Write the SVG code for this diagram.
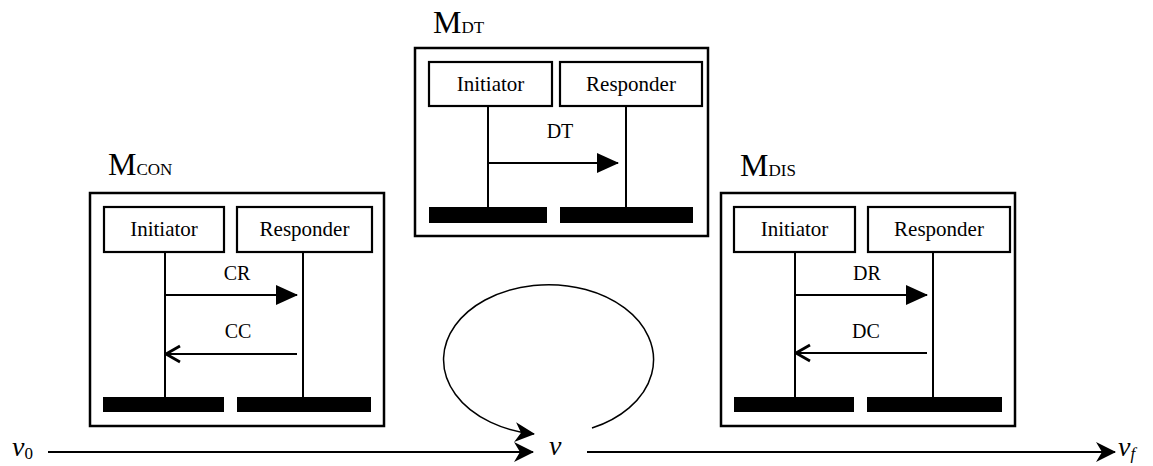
<svg xmlns="http://www.w3.org/2000/svg" width="1153" height="466" viewBox="0 0 1153 466">
  <style>
    .frame { fill: #fff; stroke: #000; stroke-width: 2.5; }
    .role { fill: #fff; stroke: #000; stroke-width: 2.2; }
    .bar { fill: #000; stroke: none; }
    .life { stroke: #000; stroke-width: 2; fill: none; }
    .msg { stroke: #000; stroke-width: 2; fill: none; }
    .axis { stroke: #000; stroke-width: 1.8; fill: none; }
    .loop { stroke: #000; stroke-width: 1.5; fill: none; }
    .role-txt { font-family: "Liberation Serif", "Times New Roman", serif; font-size: 21px; text-anchor: middle; fill: #000; }
    .msg-txt { font-family: "Liberation Serif", "Times New Roman", serif; font-size: 20px; text-anchor: middle; fill: #000; }
    .title { font-family: "Liberation Serif", "Times New Roman", serif; font-size: 32px; fill: #000; }
    .title .sub { font-size: 17px; }
    .state { font-family: "Liberation Serif", "Times New Roman", serif; font-size: 28px; font-style: italic; fill: #000; }
    .state .idx { font-size: 17px; }
  </style>
  <defs>
    <marker id="tri" viewBox="0 0 22 20" refX="21" refY="10" markerWidth="22" markerHeight="20" markerUnits="userSpaceOnUse" orient="auto">
      <path d="M0,0 L22,10 L0,20 z" fill="#000"/>
    </marker>
    <marker id="vee" viewBox="0 0 18 20" refX="16" refY="10" markerWidth="18" markerHeight="20" markerUnits="userSpaceOnUse" orient="auto">
      <path d="M2,2 L16,10 L2,18" fill="none" stroke="#000" stroke-width="2.8"/>
    </marker>
    <marker id="barb" viewBox="0 0 20 20" refX="19" refY="10" markerWidth="20" markerHeight="20" markerUnits="userSpaceOnUse" orient="auto">
      <path d="M0,0 L20,10 L0,20 L6,10 z" fill="#000"/>
    </marker>
  </defs>

  <!-- connection establishment -->
  <g id="node-mcon">
    <text class="title" x="108" y="175">M<tspan class="sub">CON</tspan></text>
    <rect class="frame" x="90" y="193" width="294" height="233"/>
    <rect class="role" x="104" y="207" width="120" height="45"/>
    <text class="role-txt" x="164" y="236">Initiator</text>
    <rect class="role" x="237" y="207" width="135" height="45"/>
    <text class="role-txt" x="304.5" y="236">Responder</text>
    <line class="life" x1="165" y1="252" x2="165" y2="397"/>
    <line class="life" x1="303" y1="252" x2="303" y2="397"/>
    <rect class="bar" x="103" y="397" width="121" height="15"/>
    <rect class="bar" x="237" y="397" width="134" height="15"/>
    <text class="msg-txt" x="237" y="280">CR</text>
    <line class="msg" x1="165" y1="295" x2="297" y2="295" marker-end="url(#tri)"/>
    <text class="msg-txt" x="238" y="338">CC</text>
    <line class="msg" x1="297" y1="354" x2="166" y2="354" marker-end="url(#vee)"/>
  </g>

  <!-- data transfer -->
  <g id="node-mdt">
    <text class="title" x="433" y="33">M<tspan class="sub">DT</tspan></text>
    <rect class="frame" x="415" y="48" width="293" height="188"/>
    <rect class="role" x="429" y="62" width="123" height="44"/>
    <text class="role-txt" x="490.5" y="91">Initiator</text>
    <rect class="role" x="560" y="62" width="142" height="44"/>
    <text class="role-txt" x="631" y="91">Responder</text>
    <line class="life" x1="488" y1="106" x2="488" y2="207"/>
    <line class="life" x1="626" y1="106" x2="626" y2="207"/>
    <rect class="bar" x="429" y="207" width="118" height="16"/>
    <rect class="bar" x="560" y="207" width="133" height="16"/>
    <text class="msg-txt" x="560" y="138">DT</text>
    <line class="msg" x1="488" y1="163" x2="618" y2="163" marker-end="url(#tri)"/>
  </g>

  <!-- disconnection -->
  <g id="node-mdis">
    <text class="title" x="740" y="176">M<tspan class="sub">DIS</tspan></text>
    <rect class="frame" x="721" y="193" width="294" height="233"/>
    <rect class="role" x="734" y="207" width="121" height="45"/>
    <text class="role-txt" x="794.5" y="236">Initiator</text>
    <rect class="role" x="868" y="207" width="142" height="45"/>
    <text class="role-txt" x="939" y="236">Responder</text>
    <line class="life" x1="795" y1="252" x2="795" y2="397"/>
    <line class="life" x1="933" y1="252" x2="933" y2="397"/>
    <rect class="bar" x="734" y="397" width="120" height="15"/>
    <rect class="bar" x="867" y="397" width="135" height="15"/>
    <text class="msg-txt" x="867" y="280">DR</text>
    <line class="msg" x1="795" y1="295" x2="927" y2="295" marker-end="url(#tri)"/>
    <text class="msg-txt" x="866" y="338">DC</text>
    <line class="msg" x1="927" y1="353" x2="796" y2="353" marker-end="url(#vee)"/>
  </g>

  <!-- states along the time axis -->
  <g id="node-v0">
    <text class="state" x="12" y="456">v<tspan class="idx" font-style="normal" dy="3">0</tspan></text>
  </g>
  <g id="node-v">
    <text class="state" x="549" y="455">v</text>
  </g>
  <g id="node-vf">
    <text class="state" x="1118" y="456">v<tspan class="idx" dy="3">f</tspan></text>
  </g>

  <g id="connectors">
    <line class="axis" x1="48" y1="452" x2="533" y2="452" marker-end="url(#barb)"/>
    <line class="axis" x1="587" y1="452" x2="1115" y2="452" marker-end="url(#barb)"/>
    <path class="loop" d="M592,428 A105,75 0 1 0 534,434" marker-end="url(#barb)"/>
  </g>
</svg>
